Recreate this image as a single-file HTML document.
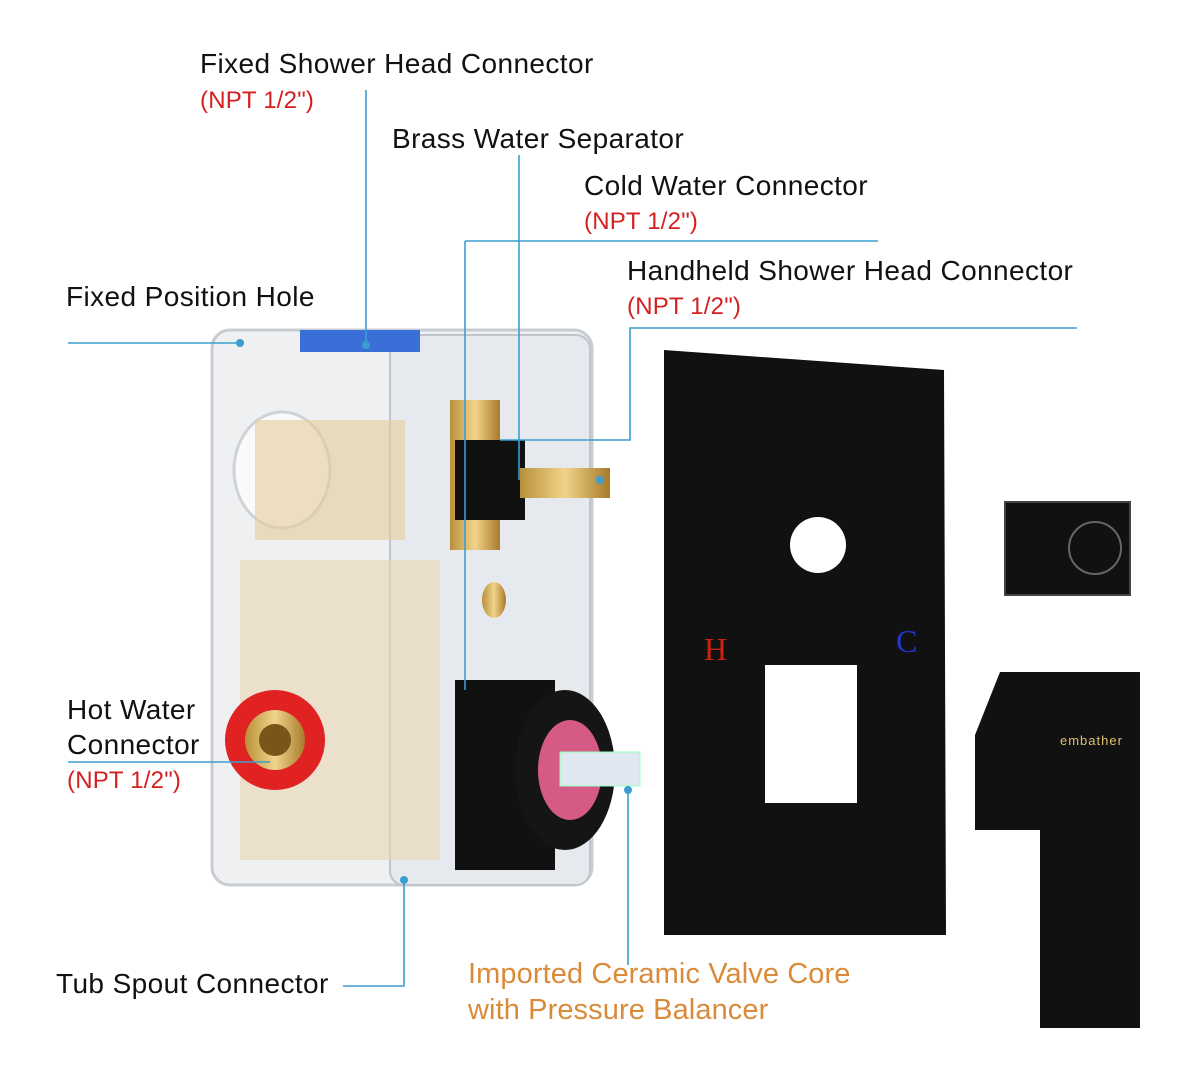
<!DOCTYPE html>
<html><head><meta charset="utf-8"><style>
body{margin:0;width:1200px;height:1083px;background:#fff;position:relative;overflow:hidden;font-family:"Liberation Sans",sans-serif}
.t{position:absolute;font-size:28px;color:#111;white-space:nowrap;line-height:1;letter-spacing:0.4px}
.r{position:absolute;font-size:24px;color:#d42020;white-space:nowrap;line-height:1;letter-spacing:0.2px}
.o{position:absolute;font-size:29px;color:#d98b3a;white-space:nowrap;line-height:1;letter-spacing:0.1px}
svg{position:absolute;left:0;top:0}
</style></head><body>
<svg width="1200" height="1083">
<defs><linearGradient id="br" x1="0" x2="1"><stop offset="0" stop-color="#b8903a"/><stop offset=".5" stop-color="#f1d48a"/><stop offset="1" stop-color="#a87a2c"/></linearGradient></defs>
<rect x="212" y="330" width="380" height="555" rx="18" fill="#eef0f2" stroke="#c8ccd2" stroke-width="3"/>
<rect x="390" y="335" width="200" height="550" rx="14" fill="#e6eaee" stroke="#bfc5cc" stroke-width="2"/>
<rect x="300" y="330" width="120" height="22" fill="#3b6fd8"/>
<ellipse cx="282" cy="470" rx="48" ry="58" fill="#fafafa" stroke="#cfd3d8" stroke-width="3"/>
<rect x="240" y="560" width="200" height="300" fill="#e9d6b0" opacity=".6"/>
<rect x="255" y="420" width="150" height="120" fill="#e4cc9a" opacity=".6"/>
<rect x="450" y="400" width="50" height="150" fill="url(#br)"/>
<rect x="455" y="440" width="70" height="80" fill="#111"/>
<rect x="520" y="468" width="90" height="30" fill="url(#br)"/>
<ellipse cx="494" cy="600" rx="12" ry="18" fill="url(#br)"/>
<circle cx="275" cy="740" r="50" fill="#e12222"/>
<circle cx="275" cy="740" r="30" fill="url(#br)"/>
<circle cx="275" cy="740" r="16" fill="#7a5418"/>
<rect x="455" y="680" width="100" height="190" fill="#111"/>
<ellipse cx="565" cy="770" rx="50" ry="80" fill="#151515"/>
<ellipse cx="570" cy="770" rx="32" ry="50" fill="#d55a85"/>
<rect x="560" y="752" width="80" height="34" fill="#dfe8f0" stroke="#9fb" stroke-width="1"/>
<path d="M664 350 L944 370 L946 935 L664 935 Z" fill="#111"/>
<circle cx="818" cy="545" r="28" fill="#fff"/>
<rect x="765" y="665" width="92" height="138" fill="#fff"/>
<text x="704" y="660" font-size="32" fill="#c21" font-family="Liberation Serif">H</text>
<text x="896" y="652" font-size="32" fill="#2336c8" font-family="Liberation Serif">C</text>
<rect x="1005" y="502" width="125" height="93" fill="#111"/>
<rect x="1005" y="502" width="125" height="93" fill="none" stroke="#444" stroke-width="2"/>
<circle cx="1095" cy="548" r="26" fill="none" stroke="#666" stroke-width="2"/>
<path d="M1000 672 L1140 672 L1140 1028 L1040 1028 L1040 830 L975 830 L975 735 Z" fill="#111"/>
<text x="1060" y="745" font-size="13" fill="#e0c070" font-family="Liberation Sans" letter-spacing="1">embather</text>
<g stroke="#3a9fd0" stroke-width="1.6" fill="none">
<path d="M366 90 V345"/>
<path d="M519 155 V480"/>
<path d="M465 241 H878 M465 241 V690"/>
<path d="M1077 328 H630 V440 H500"/>
<path d="M68 343 H240"/>
<path d="M68 762 H270"/>
<path d="M343 986 H404 V880"/>
<path d="M628 790 V965"/>
</g>
<g fill="#3a9fd0"><circle cx="240" cy="343" r="4"/><circle cx="366" cy="345" r="4"/><circle cx="600" cy="480" r="4"/><circle cx="404" cy="880" r="4"/><circle cx="628" cy="790" r="4"/></g>
</svg>
<div class="t" style="left:200px;top:50px">Fixed Shower Head Connector</div>
<div class="r" style="left:200px;top:89px">(NPT 1/2")</div>
<div class="t" style="left:392px;top:125px">Brass Water Separator</div>
<div class="t" style="left:584px;top:172px">Cold Water Connector</div>
<div class="r" style="left:584px;top:210px">(NPT 1/2")</div>
<div class="t" style="left:627px;top:257px">Handheld Shower Head Connector</div>
<div class="r" style="left:627px;top:295px">(NPT 1/2")</div>
<div class="t" style="left:66px;top:283px">Fixed Position Hole</div>
<div class="t" style="left:67px;top:696px">Hot Water</div>
<div class="t" style="left:67px;top:731px">Connector</div>
<div class="r" style="left:67px;top:769px">(NPT 1/2")</div>
<div class="t" style="left:56px;top:970px">Tub Spout Connector</div>
<div class="o" style="left:468px;top:960px">Imported Ceramic Valve Core</div>
<div class="o" style="left:468px;top:996px">with Pressure Balancer</div>
</body></html>
